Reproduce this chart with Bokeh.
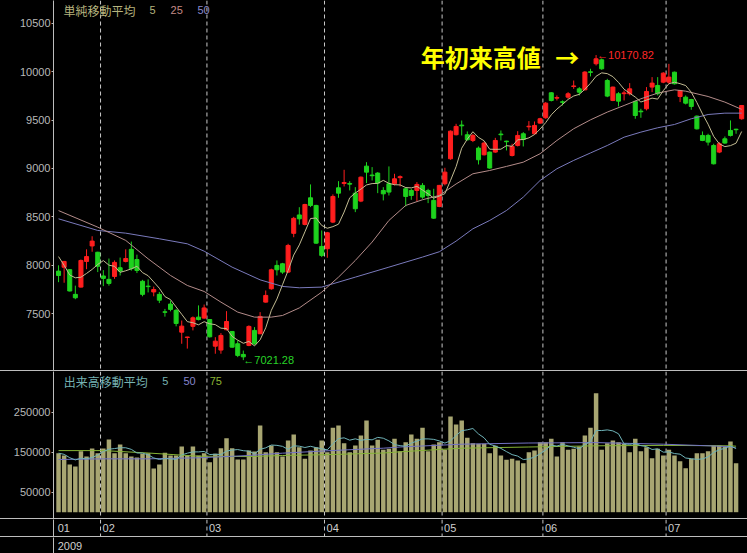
import numpy as np
import pandas as pd
from bokeh.plotting import figure
from bokeh.models import Range1d, FixedTicker, NumeralTickFormatter, Span, Label, Div, ColumnDataSource
from bokeh.layouts import column
from bokeh.embed import file_html
from bokeh.resources import INLINE

# ---------------- data ----------------
opens = [7940, 7980, 7955, 7700, 7775, 8040, 8200, 8135, 7890, 7855,
         7885, 7975, 8040, 8165, 8060, 7835, 7785, 7725, 7700, 7520,
         7600, 7535, 7310, 7255, 7370, 7465, 7455, 7440, 7165, 7125,
         7335, 7317, 7190, 7080, 7173, 7328, 7293, 7620, 7758, 7999,
         8016, 7930, 8330, 8520, 8422, 8697, 8618, 8195, 8171, 8446,
         8800, 8845, 8845, 8745, 8663, 9024, 8932, 8952, 8773, 8842,
         8842, 8905, 8790, 8773, 8773, 8825, 8773, 8670, 8608, 8842,
         9100, 9348, 9448, 9348, 9289, 9210, 9141, 9169, 9169, 9355,
         9282, 9134, 9238, 9358, 9430, 9358, 9468, 9523, 9781, 9726,
         9688, 9736, 9846, 9822, 9812, 9998, 10081, 10122, 9908, 9702,
         9771, 9772, 9771, 9692, 9592, 9616, 9840, 9857, 9891, 9891,
         9994, 9743, 9736, 9712, 9540, 9341, 9341, 9237, 9169, 9306,
         9392, 9405, 9513]
highs = [8000, 8045, 7960, 7790, 8060, 8165, 8300, 8140, 7950, 8070,
         8050, 8080, 8165, 8245, 8110, 7850, 7855, 7780, 7725, 7550,
         7635, 7550, 7430, 7262, 7472, 7586, 7595, 7445, 7258, 7300,
         7527, 7322, 7224, 7120, 7380, 7362, 7517, 7740, 7965, 8050,
         8025, 8222, 8500, 8600, 8635, 8835, 8625, 8360, 8345, 8732,
         8869, 8986, 8869, 8807, 8917, 9065, 9014, 8962, 8807, 9021,
         8945, 8928, 8807, 8790, 8859, 8849, 8790, 8790, 8830, 9007,
         9392, 9461, 9495, 9382, 9358, 9227, 9279, 9175, 9316, 9392,
         9286, 9255, 9385, 9375, 9489, 9485, 9523, 9685, 9788, 9754,
         9702, 9788, 9908, 9840, 10005, 10029, 10170.82, 10135, 9925, 9845,
         9788, 9805, 9881, 9702, 9616, 9840, 9943, 9943, 9994, 10080,
         10000, 9812, 9754, 9719, 9547, 9382, 9358, 9255, 9272, 9330,
         9496, 9410, 9655]
lows = [7826, 7820, 7730, 7650, 7770, 7960, 8140, 7930, 7785, 7790,
        7860, 7895, 8030, 7945, 7920, 7680, 7720, 7680, 7610, 7470,
        7525, 7370, 7190, 7140, 7328, 7431, 7448, 7255, 7087, 7087,
        7328, 7150, 7052, 7021.28, 7165, 7180, 7290, 7615, 7748, 7895,
        7912, 7920, 8290, 8420, 8412, 8601, 8222, 8085, 8078, 8436,
        8697, 8814, 8773, 8549, 8652, 8849, 8876, 8745, 8670, 8721,
        8825, 8814, 8608, 8676, 8659, 8687, 8642, 8480, 8600, 8825,
        9090, 9341, 9341, 9289, 9272, 9041, 9134, 8997, 9162, 9289,
        9186, 9124, 9227, 9227, 9392, 9351, 9461, 9513, 9692, 9702,
        9650, 9719, 9822, 9754, 9805, 9950, 10063, 10018, 9736, 9695,
        9640, 9702, 9754, 9513, 9523, 9599, 9788, 9754, 9880, 9874,
        9867, 9685, 9661, 9606, 9402, 9282, 9237, 9041, 9158, 9255,
        9330, 9358, 9503]
closes = [7895, 8040, 7735, 7665, 8050, 8090, 8250, 7990, 7865, 7813,
          8030, 7940, 8070, 7965, 7947, 7700, 7780, 7750, 7640, 7515,
          7545, 7400, 7372, 7260, 7458, 7440, 7560, 7262, 7217, 7276,
          7420, 7155, 7070, 7055, 7369, 7190, 7472, 7689, 7954, 7954,
          7930, 8205, 8485, 8480, 8628, 8618, 8229, 8102, 8336, 8711,
          8745, 8855, 8838, 8584, 8910, 8962, 8925, 8849, 8738, 8756,
          8893, 8915, 8711, 8721, 8835, 8704, 8721, 8487, 8825, 8962,
          9385, 9434, 9440, 9296, 9341, 9090, 9262, 9004, 9289, 9348,
          9276, 9227, 9341, 9300, 9436, 9444, 9513, 9674, 9702, 9732,
          9683, 9771, 9852, 9788, 9995, 9992, 10132, 10029, 9747, 9840,
          9695, 9780, 9822, 9547, 9585, 9795, 9881, 9771, 9984, 9943,
          9874, 9805, 9674, 9640, 9409, 9289, 9272, 9048, 9255, 9262,
          9341, 9400, 9650]
volumes = [147600, 141750, 119250, 114250, 152600, 139250, 159250, 147600, 159250, 181750,
           147600, 169250, 147600, 139250, 136750, 145900, 147600, 109250, 119250, 148400,
           141750, 141750, 164250, 141750, 164250, 141750, 147600, 125100, 145900, 160100,
           185100, 160100, 131750, 131750, 154250, 151750, 216750, 150100, 166750, 150100,
           139250, 179250, 194250, 162600, 133400, 154250, 162600, 179250, 150100, 210900,
           216750, 172600, 150100, 166750, 191750, 229250, 166750, 181000, 156000, 158400,
           183400, 152600, 175100, 194250, 183400, 210900, 152600, 169250, 175100, 156000,
           239250, 219250, 229250, 185900, 172600, 171000, 171000, 147600, 166000, 141750,
           131000, 133400, 129250, 122600, 150100, 154250, 175100, 175100, 183400, 139250,
           175100, 156000, 158400, 164250, 191750, 210900, 297600, 156000, 172600, 179250,
           175100, 171000, 150100, 183400, 152600, 162600, 135100, 158400, 141750, 156000,
           141750, 127600, 110100, 133400, 147600, 147600, 152600, 166750, 166750, 164250,
           176750, 122600]

# first values of the 5-day price average (before enough closes exist)
ma5_head = [8090, 8000, 7900, 7871]
# 25 / 50 day price averages read at sample days
ma25_idx = [0, 7, 12, 16, 20, 23, 26, 29, 32, 35, 38, 40, 43, 47, 50, 53, 56, 59, 62, 65,
            68, 71, 74, 77, 80, 83, 86, 89, 92, 95, 98, 101, 104, 107, 110, 112, 116, 119, 122]
ma25_val = [8565, 8394, 8257, 8067, 7895, 7792, 7730, 7620, 7517, 7465, 7465, 7482, 7560, 7723,
            7878, 8050, 8240, 8463, 8618, 8677, 8721, 8840, 8945, 8979, 9021, 9065, 9152, 9289,
            9410, 9502, 9582, 9650, 9719, 9778, 9812, 9798, 9743, 9685, 9610]
ma50_idx = [0, 7, 12, 18, 23, 26, 31, 36, 40, 43, 47, 53, 59, 65, 68, 71, 74, 77, 80, 83,
            86, 89, 92, 95, 98, 101, 104, 107, 110, 113, 116, 119, 122]
ma50_val = [8480, 8360, 8332, 8274, 8222, 8146, 7981, 7850, 7782, 7768, 7775, 7878, 7981, 8085,
            8140, 8250, 8377, 8463, 8566, 8704, 8876, 8997, 9083, 9160, 9237, 9323, 9375, 9420,
            9454, 9513, 9557, 9571, 9571]
# 50 / 75 day volume averages read at sample days
vma50_idx = [0, 8, 16, 25, 34, 40, 49, 58, 61, 72, 84, 96, 108, 120, 121]
vma50_val = [131750, 133400, 133400, 136000, 141750, 147600, 154250, 160000, 163000, 170000,
             173000, 174000, 170000, 164000, 160000]
vma75_idx = [0, 8, 16, 25, 34, 40, 49, 58, 61, 72, 84, 96, 108, 120, 121]
vma75_val = [154000, 154000, 148000, 140000, 139000, 141750, 144250, 148000, 151000, 160000,
             163000, 166000, 167000, 166000, 165000]

month_start = [0, 8, 27, 48, 69, 87, 109]
month_labels = ["01", "02", "03", "04", "05", "06", "07"]
year_label = "2009"
price_ticks = [7500, 8000, 8500, 9000, 9500, 10000, 10500]
vol_ticks = [50000, 150000, 250000]
price_high_label = "←10170.82"
price_low_label = "←7021.28"

# ---------------- styling ----------------
W = 747
LB = 53
AXC = "#bdbdbd"
LBLC = "#b8b8b8"
NUMF = "Liberation Sans"
NUMS = "11px"
CJK = "Noto Sans CJK JP"
UP = "#ff1e1e"
DOWN = "#1ed21e"
C_MA5 = "#c2bb92"
C_MA25 = "#b48c8a"
C_MA50 = "#7a7abc"
C_VOL = "#a8a672"
C_VMA5 = "#6fb3b8"
C_VMA50 = "#7272c4"
C_VMA75 = "#86b436"

n = len(opens)
idx = np.arange(n)
o = np.array(opens, float); c = np.array(closes, float)
cols = [UP if cc >= oo else DOWN for oo, cc in zip(o, c)]
src = ColumnDataSource(dict(x=idx, o=o, h=highs, l=lows, c=c,
                            top=np.maximum(o, c), bot=np.minimum(o, c), col=cols))

ma5 = pd.Series(closes, dtype=float).rolling(5).mean().to_numpy()
ma5[:len(ma5_head)] = ma5_head
vma5 = pd.Series(volumes, dtype=float).rolling(5, min_periods=1).mean().to_numpy()

xr = Range1d(-0.9, n + 0.04)


def base_fig(h, yr):
    f = figure(width=W, height=h, x_range=xr, y_range=yr, output_backend="svg",
               toolbar_location=None, x_axis_location=None,
               min_border_left=LB, min_border_right=0, min_border_top=0, min_border_bottom=0,
               background_fill_color="black", border_fill_color="black", outline_line_color=None)
    f.grid.visible = False
    ax = f.yaxis[0]
    ax.axis_line_color = AXC
    ax.major_tick_line_color = AXC
    ax.minor_tick_line_color = None
    ax.major_tick_out = 2
    ax.major_tick_in = 0
    ax.major_label_standoff = 1
    ax.major_label_text_color = LBLC
    ax.major_label_text_font = NUMF
    ax.major_label_text_font_size = NUMS
    return f


def month_lines(f):
    for m in month_start[1:]:
        f.add_layout(Span(location=m - 0.5, dimension="height", line_color="#c8c8c8",
                          line_dash="4 3", line_width=1, level="underlay"))


# ---------------- price panel ----------------
p = base_fig(370, Range1d(6914, 10734))
p.yaxis[0].ticker = FixedTicker(ticks=price_ticks)
month_lines(p)
p.segment(x0="x", y0="l", x1="x", y1="h", source=src, line_color="col", line_width=1)
p.vbar(x="x", width=0.72, top="top", bottom="bot", source=src, fill_color="col", line_color="col", line_width=1)
p.line(ma50_idx, ma50_val, line_color=C_MA50, line_width=1)
p.line(ma25_idx, ma25_val, line_color=C_MA25, line_width=1)
p.line(idx, ma5, line_color=C_MA5, line_width=1)

p.add_layout(Label(x=0.9, y=10631, text="単純移動平均", text_font=CJK, text_font_size="12px",
                   text_color="#b6b47e", text_baseline="middle"))
for xx, t, col in [(16.25, "5", "#b6b47e"), (20.0, "25", "#c48a86"), (24.8, "50", "#8a8acc")]:
    p.add_layout(Label(x=xx, y=10631, text=t, text_font=NUMF, text_font_size=NUMS,
                       text_color=col, text_baseline="middle"))
p.add_layout(Label(x=64.7, y=10160, text="年初来高値", text_font=CJK, text_font_style="bold",
                   text_font_size="24px", text_color="#ffff00", text_baseline="middle"))
p.add_layout(Label(x=88.7, y=10160, text="→", text_font=CJK, text_font_style="bold",
                   text_font_size="24px", text_color="#ffff00", text_baseline="middle"))
imax = int(np.argmax(highs)); imin = int(np.argmin(lows))
p.add_layout(Label(x=imax, y=highs[imax], text=price_high_label, x_offset=1, text_font=NUMF,
                   text_font_size=NUMS, text_color="#ff2828", text_baseline="middle"))
p.add_layout(Label(x=imin, y=lows[imin], text=price_low_label, x_offset=0, text_font=NUMF,
                   text_font_size=NUMS, text_color="#28d428", text_baseline="middle"))

# ---------------- volume panel ----------------
v = base_fig(147, Range1d(-15750, 351750))
v.yaxis[0].ticker = FixedTicker(ticks=vol_ticks)
v.yaxis[0].formatter = NumeralTickFormatter(format="0")
month_lines(v)
vx = idx[:len(volumes)]
v.vbar(x=vx, width=0.8, top=volumes, bottom=0, fill_color=C_VOL, line_color=None)
v.line(vma75_idx, vma75_val, line_color=C_VMA75, line_width=1)
v.line(vma50_idx, vma50_val, line_color=C_VMA50, line_width=1)
v.line(vx, vma5, line_color=C_VMA5, line_width=1)
v.add_layout(Label(x=0.95, y=327000, text="出来高移動平均", text_font=CJK, text_font_size="12px",
                   text_color="#76b2b2", text_baseline="middle"))
for xx, t, col in [(18.5, "5", "#76b2b2"), (22.3, "50", "#8484cc"), (27.0, "75", "#8cb434")]:
    v.add_layout(Label(x=xx, y=327000, text=t, text_font=NUMF, text_font_size=NUMS,
                       text_color=col, text_baseline="middle"))


# ---------------- date strips ----------------
def strip_fig(h):
    f = base_fig(h, Range1d(0, 1))
    f.yaxis[0].ticker = FixedTicker(ticks=[])
    f.yaxis[0].major_tick_line_color = None
    return f


ms = strip_fig(17)
month_lines(ms)
for m, lab in zip(month_start, month_labels):
    ms.add_layout(Label(x=m - 0.5, y=0.5, text=lab, x_offset=2, text_font=NUMF,
                        text_font_size=NUMS, text_color="#cfcfcf", text_baseline="middle"))
ys = strip_fig(16)
ys.add_layout(Label(x=month_start[0] - 0.5, y=0.5, text=year_label, x_offset=2, text_font=NUMF,
                    text_font_size=NUMS, text_color="#cfcfcf", text_baseline="middle"))


def hline():
    return Div(text="", width=W, height=1, margin=(0, 0, 0, 0),
               styles={"background-color": AXC})


page = column(p, hline(), v, hline(), ms, hline(), ys, spacing=0,
              styles={"background-color": "black"})

html = file_html(page, INLINE)
html = html.replace("<head>", "<head><style>body{background-color:#000000;}</style>", 1)
open("out.html", "w").write(html)
